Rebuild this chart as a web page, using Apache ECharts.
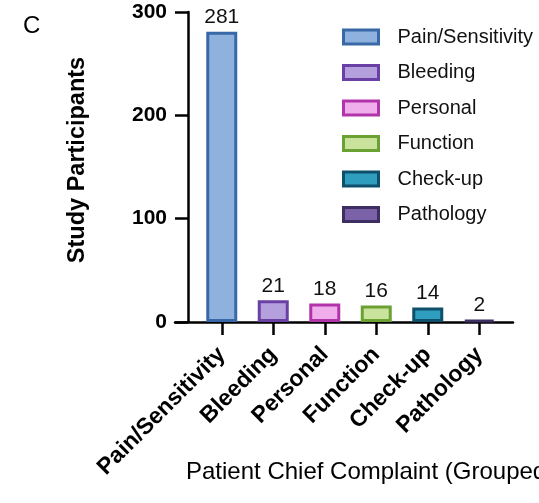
<!DOCTYPE html>
<html>
<head>
<meta charset="utf-8">
<script src="https://cdn.jsdelivr.net/npm/echarts@6/dist/echarts.min.js"></script>
<style>
  html, body { margin: 0; padding: 0; background: #fff; }
  #chart { width: 539px; height: 503px; }
</style>
</head>
<body>
<div id="chart"></div>
<script>
// data
var categories = ['Pain/Sensitivity', 'Bleeding', 'Personal', 'Function', 'Check-up', 'Pathology'];
var participants = [281, 21, 18, 16, 14, 2];
var fillColors = ['#8FB1DD', '#B4A0DD', '#F0AEEC', '#C9E39D', '#2F9DBE', '#7B62A8'];
var borderColors = ['#3868A8', '#6A40A4', '#B234AA', '#6AA132', '#0E506B', '#3E2F62'];
var yMin = 0, yMax = 300, yStep = 100;

var FONT = 'Arial, "Liberation Sans", Helvetica, sans-serif';

var series = categories.map(function (name, i) {
    return {
        name: name,
        type: 'bar',
        stack: 'all',
        barWidth: 31,
        xAxisIndex: 0,
        yAxisIndex: 0,
        data: categories.map(function (c, j) { return j === i ? participants[i] : '-'; }),
        itemStyle: { color: fillColors[i], borderColor: borderColors[i], borderWidth: 3 },
        label: {
            show: true,
            position: 'top',
            distance: 4,
            color: '#111',
            fontFamily: FONT,
            fontSize: 21
        }
    };
});

var option = {
    animation: false,
    backgroundColor: '#fff',
    title: [
        { text: 'C', left: 18, top: 9, textStyle: { fontFamily: FONT, fontSize: 24, fontWeight: 'normal', color: '#000' } },
        { text: 'Patient Chief Complaint (Grouped)', left: 181, top: 455,
          textStyle: { fontFamily: FONT, fontSize: 24, fontWeight: 'normal', color: '#000' } }
    ],
    legend: {
        orient: 'vertical',
        left: 337,
        top: 22,
        itemWidth: 35,
        itemHeight: 14,
        itemGap: 15.5,
        textStyle: { fontFamily: FONT, fontSize: 20, color: '#111', padding: [0, 0, 0, 14] },
        data: categories.map(function (c, i) {
            return { name: c, icon: 'rect', itemStyle: { color: fillColors[i], borderColor: borderColors[i], borderWidth: 3 } };
        })
    },
    grid: [
        { left: 196, right: 34, top: 12, bottom: 181 },
        { left: 175, right: 26, top: 12, bottom: 181 }
    ],
    xAxis: [
        {
            type: 'category',
            gridIndex: 0,
            data: categories,
            axisLine: { show: false },
            axisTick: { show: true, alignWithLabel: true, length: 13, lineStyle: { color: '#000', width: 2.5 } },
            axisLabel: {
                rotate: 45,
                margin: 29,
                interval: 0,
                color: '#000',
                fontFamily: FONT,
                fontWeight: 'bold',
                fontSize: 23
            }
        },
        {
            type: 'value',
            gridIndex: 1,
            axisLine: { show: true, lineStyle: { color: '#000', width: 2.5 } },
            axisTick: { show: false },
            axisLabel: { show: false },
            splitLine: { show: false }
        }
    ],
    yAxis: [
        {
            type: 'value',
            gridIndex: 0,
            min: yMin,
            max: yMax,
            interval: yStep,
            offset: 8,
            name: 'Study Participants',
            nameLocation: 'middle',
            nameGap: 98,
            nameTextStyle: { fontFamily: FONT, fontWeight: 'bold', fontSize: 23.5, color: '#000', padding: [0, 0, 0, 14] },
            axisLine: { show: true, lineStyle: { color: '#000', width: 2.5 } },
            axisTick: { show: true, length: 13, lineStyle: { color: '#000', width: 2.5 } },
            axisLabel: { margin: 21, color: '#000', fontFamily: FONT, fontWeight: 'bold', fontSize: 21 },
            splitLine: { show: false }
        },
        {
            type: 'value',
            gridIndex: 1,
            show: false
        }
    ],
    series: series
};

var myChart = echarts.init(document.getElementById('chart'), null, { renderer: 'canvas' });
myChart.setOption(option);
</script>
</body>
</html>
